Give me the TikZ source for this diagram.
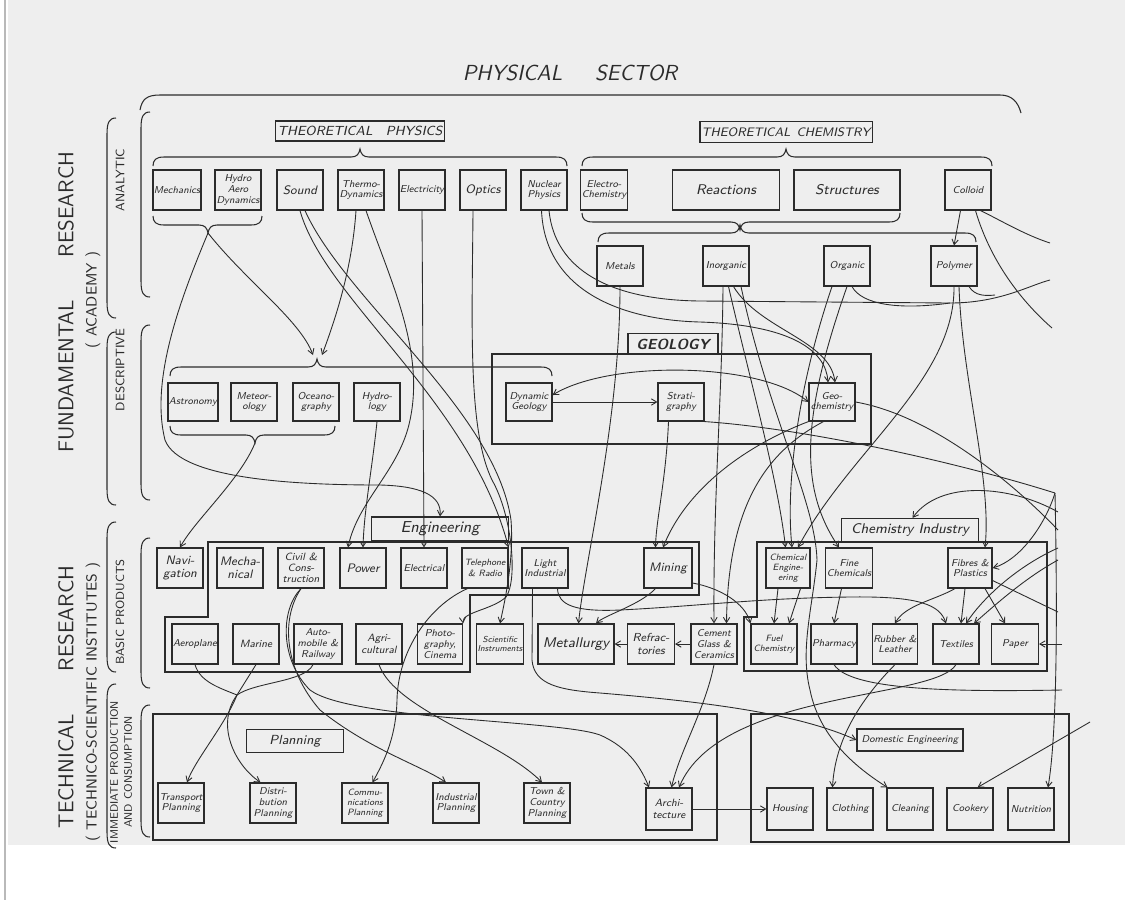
\documentclass[tikz,border=0pt]{standalone}
\usepackage{fontspec}
\usetikzlibrary{arrows.meta}

\definecolor{ink}{HTML}{2B2B2B}
\definecolor{paperbg}{HTML}{EEEEEE}

\newcommand{\bxf}{\fontsize{5.7}{6.1}\selectfont\sffamily\itshape}
\newcommand{\bxfsmall}{\fontsize{5.2}{5.8}\selectfont\sffamily\itshape}
\newcommand{\bxfbig}{\fontsize{7}{7.6}\selectfont\sffamily\itshape}
\newcommand{\hdrf}{\fontsize{7.5}{8}\selectfont\sffamily\itshape}
\newcommand{\sidef}{\fontsize{12.2}{13}\selectfont\sffamily}

% brace with tip up: left x, right x, line y, tip x
\newcommand{\braceup}[4]{%
  \draw[brk] (#1,#3+9) .. controls (#1,#3+3) and (#1+3,#3) .. (#1+11,#3)
    -- (#4-9,#3) .. controls (#4-3,#3) and (#4-1,#3-3) .. (#4,#3-8)
    .. controls (#4+1,#3-3) and (#4+3,#3) .. (#4+9,#3)
    -- (#2-11,#3) .. controls (#2-3,#3) and (#2,#3+3) .. (#2,#3+9);}
% brace with tip down
\newcommand{\bracedown}[4]{%
  \draw[brk] (#1,#3-9) .. controls (#1,#3-3) and (#1+3,#3) .. (#1+11,#3)
    -- (#4-9,#3) .. controls (#4-3,#3) and (#4-1,#3+3) .. (#4,#3+8)
    .. controls (#4+1,#3+3) and (#4+3,#3) .. (#4+9,#3)
    -- (#2-11,#3) .. controls (#2-3,#3) and (#2,#3-3) .. (#2,#3-9);}
% side bracket: x, top y, bottom y
\newcommand{\sidebrk}[3]{%
  \draw[brk] (#1+9,#2) .. controls (#1+2,#2) and (#1,#2+5) .. (#1,#2+16)
    -- (#1,#3-16) .. controls (#1,#3-5) and (#1+2,#3) .. (#1+9,#3);}

\begin{document}
\begin{tikzpicture}[x=0.02cm, y=-0.02cm,
  box/.style={draw=ink, line width=0.65pt, align=center, inner sep=0.5pt,
    minimum width=0.92cm, minimum height=0.8cm, font=\bxf, text=ink},
  big/.style={font=\bxfbig},
  small/.style={font=\bxfsmall},
  hdr/.style={draw=ink, line width=0.65pt, inner sep=1pt, font=\hdrf, text=ink},
  region/.style={draw=ink, line width=0.65pt},
  brk/.style={draw=ink, line width=0.6pt},
  link/.style={draw=ink, line width=0.5pt},
  arr/.style={link, -{Straight Barb[length=3pt,width=3.6pt]}},
  arrs/.style={link, {Straight Barb[length=3pt,width=3.6pt]}-{Straight Barb[length=3pt,width=3.6pt]}},
  side/.style={rotate=90, text=ink, font=\sidef},
  sub/.style={rotate=90, text=ink, font=\fontsize{7}{8}\selectfont\sffamily, align=center}
]
\useasboundingbox (0,0) rectangle (1125,900);
\fill[white] (0,0) rectangle (1125,900);
\fill[paperbg] (8,0) rectangle (1125,845);
\draw[gray!55, line width=0.8pt] (5,0) -- (5,900);

% titles and side labels
\node[text=ink, font=\fontsize{12.4}{13}\selectfont\sffamily\itshape\addfontfeature{LetterSpace=12}] (sector) at (570,73) {PHYSICAL\hspace{1.5em}SECTOR};
\node[side] (fund) at (66,302) {FUNDAMENTAL\hspace{2em}RESEARCH};
\node[side, font=\fontsize{8.5}{9}\selectfont\sffamily] (acad) at (93,300) {( ACADEMY )};
\node[side] (tech) at (66,697) {TECHNICAL\hspace{2em}RESEARCH};
\node[side, font=\fontsize{8.3}{9}\selectfont\sffamily] (inst) at (93,702) {( TECHNICO-SCIENTIFIC INSTITUTES )};
\node[sub] (analytic) at (120,180) {ANALYTIC};
\node[sub] (descr) at (120,370) {DESCRIPTIVE};
\node[sub, font=\fontsize{6.7}{7.5}\selectfont\sffamily] (basic) at (120,612) {BASIC PRODUCTS};
\node[sub, font=\fontsize{6.2}{8}\selectfont\sffamily] (immed) at (121,772) {IMMEDIATE PRODUCTION\\AND CONSUMPTION};

% side brackets
\sidebrk{107}{118}{318}
\sidebrk{107}{332}{505}
\sidebrk{107}{522}{672}
\sidebrk{107}{684}{848}
\sidebrk{141}{112}{297}
\sidebrk{141}{325}{500}
\sidebrk{141}{538}{688}
\sidebrk{141}{705}{837}

% top bracket of the sector
\draw[brk] (140,110) .. controls (142,99) and (147,95) .. (160,95) -- (1000,95)
  .. controls (1012,95) and (1018,102) .. (1021,113);

% ---- analytic ----
\node[hdr, minimum width=3.38cm, minimum height=0.4cm] (thphys) at (360,131) {THEORETICAL\quad PHYSICS};
\node[hdr, minimum width=3.3cm, minimum height=0.42cm, font=\fontsize{7}{8}\selectfont\sffamily\itshape] (thchem) at (786,132) {THEORETICAL\enspace CHEMISTRY};
\braceup{153}{567}{157}{360}
\braceup{582}{992}{157}{786}

\node[box] (mech) at (177,190) {Mechanics};
\node[box] (hydroaero) at (238,190) {Hydro\\Aero\\Dynamics};
\node[box, big] (sound) at (300,190) {Sound};
\node[box] (thermo) at (361,190) {Thermo-\\Dynamics};
\node[box] (elec) at (422,190) {Electricity};
\node[box, big] (optics) at (483,190) {Optics};
\node[box] (nuclear) at (544,190) {Nuclear\\Physics};
\node[box] (electrochem) at (604,190) {Electro-\\Chemistry};
\node[box, minimum width=2.14cm, font=\fontsize{8}{9}\selectfont\sffamily\itshape] (reactions) at (726,190) {Reactions};
\node[box, minimum width=2.12cm, font=\fontsize{8}{9}\selectfont\sffamily\itshape] (structures) at (847,190) {Structures};
\node[box] (colloid) at (968,190) {Colloid};

\bracedown{153}{262}{225}{208}
\bracedown{582}{900}{222}{740}
\braceup{598}{976}{233}{740}

\node[box] (metals) at (620,266) {Metals};
\node[box] (inorganic) at (726,266) {Inorganic};
\node[box] (organic) at (847,266) {Organic};
\node[box] (polymer) at (954,266) {Polymer};

\coordinate (mhtip) at (208,233);
\coordinate (desctipA) at (313,355);
\coordinate (desctipB) at (322,355);
\coordinate (astrotip) at (255,443);

% ---- descriptive ----
\braceup{170}{552}{367}{317}
\node[box, minimum height=0.76cm] (astronomy) at (193,402) {Astronomy};
\node[box, minimum height=0.76cm] (meteor) at (254,402) {Meteor-\\ology};
\node[box, minimum height=0.76cm] (ocean) at (316,402) {Oceano-\\graphy};
\node[box, minimum height=0.76cm] (hydrology) at (377,402) {Hydro-\\logy};
\bracedown{170}{335}{435}{255}

\draw[region] (492,354) rectangle (871,444);
\node[hdr, minimum width=1.8cm, minimum height=0.42cm, font=\fontsize{8.3}{9}\selectfont\sffamily\bfseries\itshape] (geology) at (673,344) {GEOLOGY};
\node[box, minimum height=0.76cm] (dyngeo) at (529,402) {Dynamic\\Geology};
\node[box, minimum height=0.76cm] (strat) at (681,402) {Strati-\\graphy};
\node[box, minimum height=0.76cm] (geochem) at (832,402) {Geo-\\chemistry};

% ---- basic products ----
\draw[region] (208,542) -- (699,542) -- (699,595) -- (470,595) -- (470,672)
  -- (165,672) -- (165,617) -- (208,617) -- cycle;
\draw[region] (757,542) -- (1047,542) -- (1047,671) -- (744,671) -- (744,617)
  -- (757,617) -- cycle;
\node[hdr, minimum width=2.74cm, minimum height=0.48cm, font=\fontsize{9}{10}\selectfont\sffamily\itshape] (engL) at (440,529) {Engineering};
\node[hdr, minimum width=2.74cm, minimum height=0.46cm, font=\fontsize{8}{9}\selectfont\sffamily\itshape] (chemind) at (910,530) {Chemistry Industry};

\node[box, big] (nav) at (180,568) {Navi-\\gation};
\node[box, big] (mechanical) at (240,568) {Mecha-\\nical};
\node[box, font=\fontsize{6}{6.4}\selectfont\sffamily\itshape] (civil) at (301,568) {Civil \&\\Cons-\\truction};
\node[box, big] (power) at (363,568) {Power};
\node[box] (electrical) at (424,568) {Electrical};
\node[box, small] (tele) at (485,568) {Telephone\\\& Radio};
\node[box] (lightind) at (545,568) {Light\\Industrial};
\node[box, big, minimum width=0.96cm] (mining) at (668,568) {Mining};
\node[box, small, minimum width=0.88cm] (chemeng) at (788,568) {Chemical\\Engine-\\ering};
\node[box, minimum width=0.9cm] (finechem) at (849,568) {Fine\\Chemicals};
\node[box, minimum width=0.88cm] (fibres) at (970,568) {Fibres \&\\Plastics};

\node[box] (aeroplane) at (195,644) {Aeroplane};
\node[box, font=\fontsize{6}{6.4}\selectfont\sffamily\itshape] (marine) at (256,644) {Marine};
\node[box, minimum width=0.96cm] (automobile) at (318,644) {Auto-\\mobile \&\\Railway};
\node[box, font=\fontsize{6}{6.4}\selectfont\sffamily\itshape] (agri) at (379,644) {Agri-\\cultural};
\node[box, minimum width=0.9cm] (photo) at (440,644) {Photo-\\graphy,\\Cinema};
\node[box, font=\fontsize{4.9}{5.6}\selectfont\sffamily\itshape] (sciinst) at (500,644) {Scientific\\Instruments};
\node[box, minimum width=1.52cm, font=\fontsize{8}{9}\selectfont\sffamily\itshape] (metallurgy) at (576,644) {Metallurgy};
\node[box, minimum width=0.94cm, font=\fontsize{6.6}{7.4}\selectfont\sffamily\itshape] (refract) at (651,644) {Refrac-\\tories};
\node[box] (cement) at (714,644) {Cement\\Glass \&\\Ceramics};
\node[box, small] (fuelchem) at (774,644) {Fuel\\Chemistry};
\node[box] (pharmacy) at (834,644) {Pharmacy};
\node[box, minimum width=0.9cm] (rubber) at (895,644) {Rubber \&\\Leather};
\node[box] (textiles) at (956,644) {Textiles};
\node[box, minimum width=0.94cm] (paper) at (1015,644) {Paper};

% ---- immediate production and consumption ----
\draw[region] (153,714) rectangle (717,840);
\draw[region] (751,714) rectangle (1069,842);
\node[hdr, minimum width=1.94cm, minimum height=0.46cm] (planL) at (295,741) {Planning};
\node[hdr, minimum width=2.12cm, minimum height=0.44cm, font=\bxf] (domeng) at (910,740) {Domestic Engineering};

\node[box] (transport) at (181,803) {Transport\\Planning};
\node[box] (distrib) at (273,803) {Distri-\\bution\\Planning};
\node[box, small] (comm) at (365,803) {Commu-\\nications\\Planning};
\node[box] (industrial) at (456,803) {Industrial\\Planning};
\node[box] (town) at (547,803) {Town \&\\Country\\Planning};
\node[box, minimum height=0.84cm, font=\fontsize{6}{6.6}\selectfont\sffamily\itshape] (arch) at (669,809) {Archi-\\tecture};
\node[box, minimum height=0.84cm] (housing) at (790,809) {Housing};
\node[box, minimum height=0.84cm] (clothing) at (850,809) {Clothing};
\node[box, minimum height=0.84cm] (cleaning) at (910,809) {Cleaning};
\node[box, minimum height=0.84cm] (cookery) at (970,809) {Cookery};
\node[box, minimum height=0.84cm] (nutrition) at (1031,809) {Nutrition};

% free ends at the right edge
\coordinate (ecolA) at (1050,243);
\coordinate (ecolB) at (1052,328);
\coordinate (eorg) at (1050,280);
\coordinate (ecorner) at (1055,493);
\coordinate (echi) at (1058,512);
\coordinate (egeo) at (1058,530);
\coordinate (etexA) at (1058,548);
\coordinate (etexB) at (1058,560);
\coordinate (efib) at (1058,612);
\coordinate (epaper) at (1062,644);
\coordinate (epharm) at (1062,690);
\coordinate (ecook) at (1090,722);
\coordinate (amajoin) at (237,695);

% ---- connectors: physics ----
\draw[arr] (mhtip) .. controls (245,280) and (300,320) .. (desctipA);
\draw[arr] ([xshift=-0.1cm]thermo.south) .. controls (352,270) and (335,320) .. (desctipB);
\draw[arr] (mhtip) .. controls (180,300) and (150,380) .. (165,440)
  .. controls (180,480) and (300,485) .. (380,485) .. controls (420,486) and (442,495) .. (engL.north);
\draw[arr] (astrotip) .. controls (240,480) and (195,520) .. (nav.north);
\draw[arr] ([xshift=0.1cm]thermo.south) .. controls (390,280) and (425,350) .. (410,420)
  .. controls (400,470) and (358,500) .. ([xshift=-0.3cm]power.north);
\draw[arr] (hydrology.south) .. controls (372,470) and (364,510) .. (power.north);
\draw[arr] (elec.south) -- (electrical.north);
\draw[arr] (sound.south) .. controls (325,300) and (470,400) .. (tele.north east);
\draw[arr] ([xshift=0.1cm]sound.south) .. controls (345,300) and (495,410) .. (511,520)
  .. controls (514,560) and (505,600) .. (sciinst.north);
\draw[arr] ([xshift=-0.2cm]optics.south) .. controls (472,330) and (468,430) .. (492,480)
  .. controls (512,515) and (518,580) .. (506,597) .. controls (492,610) and (462,612) .. (photo.north east);

% ---- connectors: chemistry and geology ----
\draw[arr] ([xshift=-0.05cm]nuclear.south) .. controls (545,290) and (620,320) .. (700,322)
  .. controls (790,325) and (826,350) .. ([xshift=-0.08cm]geochem.north);
\draw[link] ([xshift=0.1cm]nuclear.south) .. controls (555,270) and (610,300) .. (700,301)
  -- (950,303) .. controls (1000,303) and (1030,285) .. (eorg);
\draw[link] ([xshift=0.1cm]organic.south) .. controls (862,305) and (900,310) .. (950,303);
\draw[link] ([xshift=0.3cm]polymer.south) .. controls (975,296) and (985,296) .. (995,295);
\draw[arr] ([xshift=0.15cm]inorganic.south) .. controls (760,330) and (830,340) .. ([xshift=0.06cm]geochem.north);
\draw[arr] (dyngeo.east) -- (strat.west);
\draw[arrs] ([yshift=0.14cm]dyngeo.east) .. controls (610,360) and (760,362) .. (geochem.west);
\draw[arr] ([xshift=-0.15cm]colloid.south) -- (polymer.north);
\draw[link] ([xshift=0.25cm]colloid.south) .. controls (1000,220) and (1025,235) .. (ecolA);
\draw[link] ([xshift=0.15cm]colloid.south) .. controls (990,260) and (1020,300) .. (ecolB);

\draw[arr] (metals.south) .. controls (620,420) and (585,560) .. ([xshift=0.05cm]metallurgy.north);
\draw[arr] ([xshift=-0.06cm]inorganic.south) .. controls (722,400) and (713,500) .. (cement.north);
\draw[arr] ([xshift=0.3cm]geochem.south west) .. controls (770,450) and (728,500) .. ([xshift=0.25cm]cement.north);
\draw[arr] (geochem.south west) .. controls (760,440) and (690,480) .. ([xshift=-0.1cm]mining.north);
\draw[arr] ([xshift=-0.25cm]strat.south) .. controls (666,480) and (656,520) .. ([xshift=-0.25cm]mining.north);
\draw[link] (strat.south east) .. controls (800,428) and (950,460) .. (ecorner);
\draw[arr] (ecorner) .. controls (1058,640) and (1056,740) .. ([xshift=0.34cm]nutrition.north);
\draw[arr] (ecorner) .. controls (1045,525) and (1020,560) .. (fibres.east);
\draw[arr] (epaper) -- (paper.east);
\draw[link] (geochem.east) .. controls (930,415) and (1010,480) .. (egeo);
\draw[arr] (echi) .. controls (1010,485) and (940,480) .. ([xshift=0.05cm]chemind.north);
\draw[arr] (etexA) .. controls (1020,565) and (985,595) .. ([xshift=0.2cm]textiles.north);
\draw[arr] (etexB) .. controls (1025,578) and (995,605) .. ([xshift=0.36cm]textiles.north);
\draw[link] ([yshift=-0.25cm]fibres.east) -- (efib);

\draw[arr] (polymer.south) .. controls (955,380) and (850,450) .. ([xshift=0.2cm]chemeng.north);
\draw[arr] ([xshift=0.1cm]polymer.south) .. controls (962,380) and (992,480) .. ([xshift=0.3cm]fibres.north);
\draw[arr] ([xshift=-0.3cm]organic.south) .. controls (800,380) and (785,480) .. ([xshift=0.08cm]chemeng.north);
\draw[arr] ([xshift=0.05cm]inorganic.south) .. controls (750,380) and (778,480) .. ([xshift=-0.05cm]chemeng.north);
\draw[arr] (organic.south) .. controls (800,420) and (800,490) .. ([xshift=-0.2cm]finechem.north);
\draw[arr] ([xshift=0.3cm]inorganic.south) .. controls (770,420) and (815,500) .. (817,560)
  .. controls (812,610) and (800,650) .. (810,690) .. controls (820,740) and (860,770) .. ([xshift=-0.45cm]cleaning.north);

% ---- connectors: basic products ----
\draw[arr] ([xshift=-0.2cm]chemeng.south) -- (fuelchem.north);
\draw[arr] ([xshift=0.25cm]chemeng.south) -- ([xshift=0.3cm]fuelchem.north);
\draw[arr] ([xshift=-0.15cm]finechem.south) -- (pharmacy.north);
\draw[arr] ([xshift=-0.3cm]fibres.south) .. controls (935,600) and (905,605) .. (rubber.north);
\draw[arr] ([xshift=-0.1cm]fibres.south) -- ([xshift=0.1cm]textiles.north);
\draw[arr] ([xshift=0.3cm]fibres.south) -- ([xshift=-0.2cm]paper.north);
\draw[arr] ([xshift=0.25cm]lightind.south) .. controls (558,605) and (575,612) .. (620,610)
  .. controls (700,606) and (760,598) .. (850,597) .. controls (920,596) and (940,605) .. ([xshift=-0.2cm]textiles.north);
\draw[arr] ([xshift=-0.25cm]mining.south) .. controls (640,605) and (605,615) .. ([xshift=0.4cm]metallurgy.north);
\draw[arr] ([yshift=-0.3cm]mining.east) .. controls (720,588) and (745,603) .. (fuelchem.north west);
\draw[arr] (refract.west) -- (metallurgy.east);
\draw[arr] (cement.west) -- (refract.east);

% ---- connectors: production and consumption ----
\draw[arr] ([xshift=-0.25cm]lightind.south) -- (532,660) .. controls (534,685) and (560,690) .. (600,693)
  .. controls (720,703) and (800,715) .. (domeng.west);
\draw[arr] (cement.south) .. controls (705,710) and (680,750) .. ([xshift=0.05cm]arch.north);
\draw[arr] (textiles.south) .. controls (935,700) and (720,690) .. ([xshift=0.2cm]arch.north);
\draw[arr] (rubber.south) .. controls (860,700) and (835,740) .. ([xshift=-0.35cm]clothing.north);
\draw[link] (pharmacy.south) .. controls (850,690) and (950,692) .. (epharm);
\draw[arr] (ecook) -- ([xshift=0.15cm]cookery.north);
\draw[arr] (arch.east) -- (housing.west);

\draw[arr] (civil.south) .. controls (280,610) and (280,660) .. (310,690)
  .. controls (350,720) and (560,720) .. (600,735) .. controls (630,748) and (642,770) .. ([xshift=-0.4cm]arch.north);
\draw[arr] (civil.south) .. controls (280,620) and (285,670) .. (320,710)
  .. controls (370,750) and (420,765) .. ([xshift=-0.2cm]industrial.north);
\draw[arr] (agri.south) .. controls (395,710) and (500,740) .. ([xshift=-0.1cm]town.north);
\draw[arr] ([xshift=-0.35cm]tele.south) .. controls (430,605) and (398,650) .. (397,700)
  .. controls (396,740) and (382,765) .. ([xshift=0.15cm]comm.north);

\draw[link] (aeroplane.south) .. controls (200,682) and (220,688) .. (amajoin);
\draw[link] (marine.south) -- (amajoin);
\draw[link] ([xshift=-0.1cm]automobile.south) .. controls (305,682) and (255,682) .. (amajoin);
\draw[arr] (amajoin) .. controls (225,725) and (195,760) .. ([xshift=0.12cm]transport.north);
\draw[arr] (amajoin) .. controls (215,725) and (235,765) .. ([xshift=-0.25cm]distrib.north);
\end{tikzpicture}
\end{document}
